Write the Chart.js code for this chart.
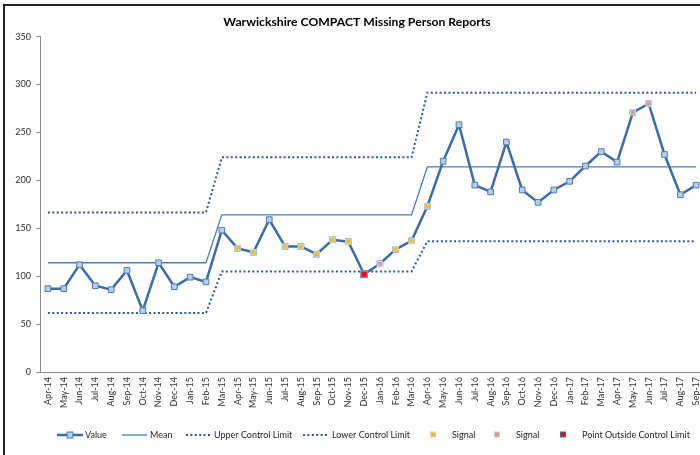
<!DOCTYPE html>
<html>
<head>
<meta charset="utf-8">
<script src="https://cdn.jsdelivr.net/npm/chart.js@4"></script>
<style>
    html, body { margin: 0; padding: 0; background: #fff; overflow: hidden; }
    #wrap { position: relative; width: 700px; height: 455px; overflow: hidden; }
    #frame { position: absolute; left: 3px; top: 4px; width: 760px; height: 500px; border: 2px solid #222; box-sizing: border-box; }
    #chart { position: absolute; left: 0; top: 0; }
</style>
</head>
<body>
<div id="wrap">
    <div id="frame"></div>
    <canvas id="chart" width="712" height="455"></canvas>
</div>
<script>
const months = ['Apr-14', 'May-14', 'Jun-14', 'Jul-14', 'Aug-14', 'Sep-14', 'Oct-14', 'Nov-14', 'Dec-14', 'Jan-15', 'Feb-15',
    'Mar-15', 'Apr-15', 'May-15', 'Jun-15', 'Jul-15', 'Aug-15', 'Sep-15', 'Oct-15', 'Nov-15', 'Dec-15', 'Jan-16', 'Feb-16', 'Mar-16',
    'Apr-16', 'May-16', 'Jun-16', 'Jul-16', 'Aug-16', 'Sep-16', 'Oct-16', 'Nov-16', 'Dec-16', 'Jan-17', 'Feb-17', 'Mar-17', 'Apr-17',
    'May-17', 'Jun-17', 'Jul-17', 'Aug-17', 'Sep-17'];

const values = [87, 87, 112, 90, 86, 106, 64, 114, 89, 99, 94,
    148, 129, 125, 159, 131, 131, 123, 138, 136, 102, 113, 128, 137,
    173, 220, 258, 195, 188, 240, 190, 177, 190, 199, 215, 230, 219, 271, 280, 227, 185, 195];

const mean = [114, 114, 114, 114, 114, 114, 114, 114, 114, 114, 114,
    164, 164, 164, 164, 164, 164, 164, 164, 164, 164, 164, 164, 164,
    214, 214, 214, 214, 214, 214, 214, 214, 214, 214, 214, 214, 214, 214, 214, 214, 214, 214];

const upperLimit = [166.5, 166.5, 166.5, 166.5, 166.5, 166.5, 166.5, 166.5, 166.5, 166.5, 166.5,
    224, 224, 224, 224, 224, 224, 224, 224, 224, 224, 224, 224, 224,
    291.5, 291.5, 291.5, 291.5, 291.5, 291.5, 291.5, 291.5, 291.5, 291.5, 291.5, 291.5, 291.5, 291.5, 291.5, 291.5, 291.5, 291.5];

const lowerLimit = [61.5, 61.5, 61.5, 61.5, 61.5, 61.5, 61.5, 61.5, 61.5, 61.5, 61.5,
    105, 105, 105, 105, 105, 105, 105, 105, 105, 105, 105, 105, 105,
    136.5, 136.5, 136.5, 136.5, 136.5, 136.5, 136.5, 136.5, 136.5, 136.5, 136.5, 136.5, 136.5, 136.5, 136.5, 136.5, 136.5, 136.5];

const signalRun = [null, null, null, null, null, null, null, null, null, null, null,
    null, 129, 125, null, 131, 131, 123, 138, 136, null, null, 128, 137,
    173, null, null, null, null, null, null, null, null, null, null, null, null, null, null, null, null, null];

const signalTrend = [null, null, null, null, null, null, null, null, null, null, null,
    null, null, null, null, null, null, null, null, null, null, 113, null, null,
    null, null, null, null, null, null, null, null, null, null, null, null, null, 271, 280, null, null, null];

const outsideLimit = [null, null, null, null, null, null, null, null, null, null, null,
    null, null, null, null, null, null, null, null, null, 102, null, null, null,
    null, null, null, null, null, null, null, null, null, null, null, null, null, null, null, null, null, null];

const yTicks = [0, 50, 100, 150, 200, 250, 300, 350];

const FONT = 'Lato, "Liberation Sans", sans-serif';
const LINE_BLUE = '#3D6BA6';
const MEAN_BLUE = '#4A7EBB';
const LIMIT_BLUE = '#30599A';
const MARKER_FILL = '#B9CDE5';
const YELLOW = '#FFC000';
const PINK = '#D99694';
const RED = '#FF0000';
const DOTS = [2, 2.4];

// Excel style legend, laid out in one row under the axis labels
const legendItems = [
    { label: 'Value', kind: 'value', x: 57, textX: 85 },
    { label: 'Mean', kind: 'mean', x: 122, textX: 150 },
    { label: 'Upper Control Limit', kind: 'dots', x: 186, textX: 214 },
    { label: 'Lower Control Limit', kind: 'dots', x: 303, textX: 332 },
    { label: 'Signal', kind: 'box', color: YELLOW, edge: '#C9D3E2', x: 433, textX: 452 },
    { label: 'Signal', kind: 'box', color: PINK, edge: '#C9D3E2', x: 497, textX: 516 },
    { label: 'Point Outside Control Limit', kind: 'box', color: RED, edge: '#4A6A9E', x: 563, textX: 582 }
];

const excelLegend = {
    id: 'excelLegend',
    afterDraw(chart) {
        const ctx = chart.ctx;
        const y = 435;
        ctx.save();
        legendItems.forEach(item => {
            if (item.kind === 'value') {
                ctx.strokeStyle = LINE_BLUE;
                ctx.lineWidth = 2.5;
                ctx.beginPath();
                ctx.moveTo(item.x, y);
                ctx.lineTo(item.x + 26, y);
                ctx.stroke();
                ctx.fillStyle = MARKER_FILL;
                ctx.strokeStyle = MEAN_BLUE;
                ctx.lineWidth = 1;
                ctx.fillRect(item.x + 10, y - 3, 6, 6);
                ctx.strokeRect(item.x + 10, y - 3, 6, 6);
            } else if (item.kind === 'mean') {
                ctx.strokeStyle = MEAN_BLUE;
                ctx.lineWidth = 1.3;
                ctx.beginPath();
                ctx.moveTo(item.x, y);
                ctx.lineTo(item.x + 25, y);
                ctx.stroke();
            } else if (item.kind === 'dots') {
                ctx.strokeStyle = LIMIT_BLUE;
                ctx.lineWidth = 2;
                ctx.setLineDash(DOTS);
                ctx.beginPath();
                ctx.moveTo(item.x, y);
                ctx.lineTo(item.x + 25, y);
                ctx.stroke();
                ctx.setLineDash([]);
            } else {
                ctx.fillStyle = item.color;
                ctx.strokeStyle = item.edge;
                ctx.lineWidth = 1;
                ctx.fillRect(item.x - 2.5, y - 3, 5, 5);
                ctx.strokeRect(item.x - 2.5, y - 3, 5, 5);
            }
            ctx.fillStyle = '#262626';
            ctx.font = '9px ' + FONT;
            ctx.textBaseline = 'middle';
            ctx.textAlign = 'left';
            ctx.fillText(item.label, item.textX, y + 0.5);
        });
        ctx.restore();
    }
};

const ctx = document.getElementById('chart').getContext('2d');

new Chart(ctx, {
    type: 'line',
    data: {
        labels: months,
        datasets: [
            {
                label: 'Signal', data: signalRun, order: 0, showLine: false,
                pointStyle: 'rect', pointRadius: 3.6, pointBackgroundColor: YELLOW,
                pointBorderColor: '#C3CFE0', pointBorderWidth: 1.4
            },
            {
                label: 'Signal', data: signalTrend, order: 0, showLine: false,
                pointStyle: 'rect', pointRadius: 3.6, pointBackgroundColor: PINK,
                pointBorderColor: '#C3CFE0', pointBorderWidth: 1.4
            },
            {
                label: 'Point Outside Control Limit', data: outsideLimit, order: 0, showLine: false,
                pointStyle: 'rect', pointRadius: 4.6, pointBackgroundColor: RED,
                pointBorderColor: '#7F8FB2', pointBorderWidth: 1.4
            },
            {
                label: 'Value', data: values, order: 1,
                borderColor: LINE_BLUE, borderWidth: 2.5, tension: 0,
                pointStyle: 'rect', pointRadius: 4, pointBackgroundColor: MARKER_FILL,
                pointBorderColor: MEAN_BLUE, pointBorderWidth: 1
            },
            {
                label: 'Mean', data: mean, order: 2,
                borderColor: MEAN_BLUE, borderWidth: 1.3, pointRadius: 0, tension: 0
            },
            {
                label: 'Upper Control Limit', data: upperLimit, order: 2,
                borderColor: LIMIT_BLUE, borderWidth: 2, borderDash: DOTS, pointRadius: 0, tension: 0
            },
            {
                label: 'Lower Control Limit', data: lowerLimit, order: 2,
                borderColor: LIMIT_BLUE, borderWidth: 2, borderDash: DOTS, pointRadius: 0, tension: 0
            }
        ]
    },
    options: {
        responsive: false,
        animation: false,
        layout: { padding: { top: 5, left: 4, right: 2, bottom: 0 } },
        plugins: {
            legend: { display: false },
            tooltip: { enabled: false },
            title: {
                display: true,
                text: 'Warwickshire COMPACT Missing Person Reports',
                color: '#000',
                font: { family: FONT, size: 12.2, weight: 'bold' },
                padding: { top: 10, bottom: 7 }
            }
        },
        scales: {
            x: {
                offset: true,
                grid: { display: false, drawTicks: false },
                border: { display: true, color: '#8C8C8C', width: 1 },
                ticks: {
                    autoSkip: false, minRotation: 90, maxRotation: 90, padding: 5,
                    color: '#333', font: { family: FONT, size: 9 }
                },
                afterFit(scale) { scale.height = 83; }
            },
            y: {
                min: 0,
                max: 350,
                afterBuildTicks(scale) { scale.ticks = yTicks.map(v => ({ value: v })); },
                grid: { drawOnChartArea: false, drawTicks: true, tickLength: 4, color: '#8C8C8C' },
                border: { display: true, color: '#8C8C8C', width: 1 },
                ticks: { padding: 5, color: '#333', font: { family: FONT, size: 9 } },
                afterFit(scale) { scale.width = 36; }
            }
        }
    },
    plugins: [excelLegend]
});
</script>
</body>
</html>
